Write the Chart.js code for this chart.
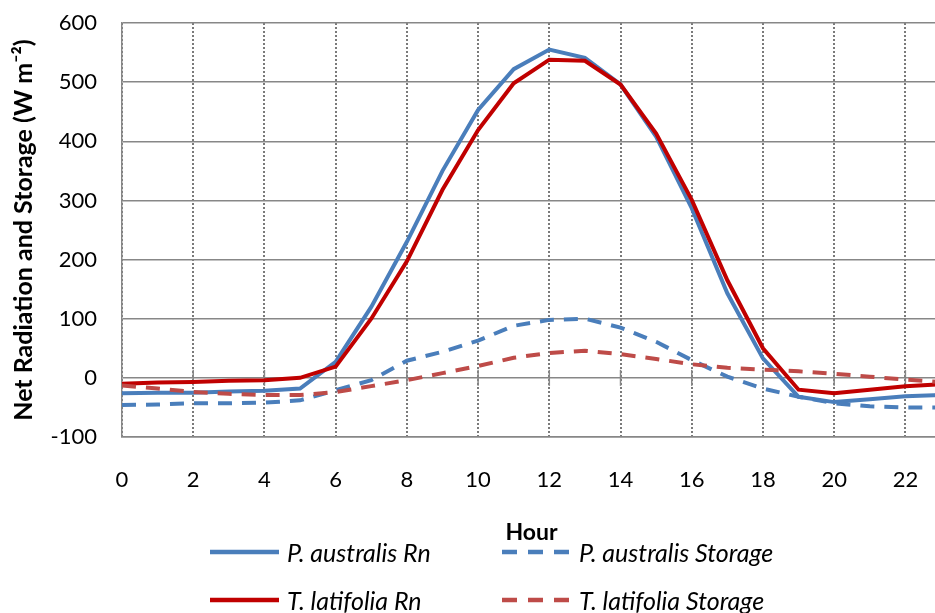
<!DOCTYPE html>
<html>
<head>
<meta charset="utf-8">
<script src="https://cdn.jsdelivr.net/npm/chart.js@4.4.1/dist/chart.umd.min.js"></script>
<style>
  html, body { margin: 0; padding: 0; background: #fff; overflow: hidden; }
  #wrap { position: relative; width: 935px; height: 613px; overflow: hidden; }
  #chart { position: absolute; left: 0; top: 0; }
  .item { position: absolute; height: 30px; display: flex; align-items: center;
          font: italic 25px Lato, sans-serif; color: #000; white-space: nowrap; }
  .item svg { margin-right: 8px; }
</style>
</head>
<body>
<div id="wrap">
  <canvas id="chart" width="960" height="613"></canvas>
  <div id="legend"></div>
</div>
<script>
var hours = [0, 1, 2, 3, 4, 5, 6, 7, 8, 9, 10, 11, 12, 13, 14, 15, 16, 17, 18, 19, 20, 21, 22, 23];
var hourTicks = [0, 2, 4, 6, 8, 10, 12, 14, 16, 18, 20, 22];
var yTicks = [-100, 0, 100, 200, 300, 400, 500, 600];
var xTitle = 'Hour';
var yTitle = 'Net Radiation and Storage (W m\u207B\u00B2)';

var seriesNames = ['P. australis Rn', 'P. australis Storage', 'T. latifolia Rn', 'T. latifolia Storage'];
var paRn = [-26, -25, -25, -23, -22, -18, 27, 120, 230, 350, 453, 522, 555, 541, 496, 408, 287, 143, 33, -32, -41, -36, -31, -29];
var paStorage = [-46, -45, -43, -43, -42, -38, -21, -4, 29, 44, 63, 88, 98, 100, 85, 61, 30, 2, -18, -32, -43, -48, -50, -50];
var tlRn = [-10, -8, -7, -5, -4, 0, 19, 100, 197, 318, 419, 498, 538, 536, 496, 413, 301, 165, 50, -20, -26, -20, -14, -11];
var tlStorage = [-13, -18, -24, -27, -29, -29, -24, -14, -4, 8, 20, 34, 42, 46, 40, 32, 23, 17, 14, 11, 7, 2, -3, -7];

var gridGrey = '#878787';
var dash = [14, 10];

function lineSet(label, data, color, dashed, order) {
  return {
    label: label,
    data: data,
    borderColor: color,
    backgroundColor: color,
    borderWidth: 4,
    borderDash: dashed ? dash : [],
    pointRadius: 0,
    tension: 0,
    fill: false,
    order: order
  };
}

// Excel style cross tick marks on the zero line
var zeroTicks = {
  id: 'zeroTicks',
  beforeDatasetsDraw: function (chart) {
    var ctx = chart.ctx;
    var y0 = chart.scales.y.getPixelForValue(0);
    ctx.save();
    ctx.strokeStyle = gridGrey;
    ctx.lineWidth = 1.5;
    hourTicks.forEach(function (h) {
      if (h === 0) return;
      var x = chart.scales.x.getPixelForValue(h);
      ctx.beginPath();
      ctx.moveTo(x, y0 - 8);
      ctx.lineTo(x, y0 + 8);
      ctx.stroke();
    });
    ctx.restore();
  }
};

var chart = new Chart(document.getElementById('chart').getContext('2d'), {
  type: 'line',
  data: {
    labels: hours,
    datasets: [
      lineSet(seriesNames[0], paRn, '#4A7EBB', false, 4),
      lineSet(seriesNames[1], paStorage, '#4A7EBB', true, 3),
      lineSet(seriesNames[2], tlRn, '#C00000', false, 2),
      lineSet(seriesNames[3], tlStorage, '#BE4B48', true, 1)
    ]
  },
  options: {
    responsive: false,
    animation: false,
    layout: { padding: { top: 23, right: 19, left: 0, bottom: 0 } },
    plugins: {
      legend: { display: false },
      tooltip: { enabled: false }
    },
    scales: {
      x: {
        type: 'linear',
        min: 0,
        max: 23,
        afterBuildTicks: function (axis) {
          axis.ticks = hourTicks.map(function (v) { return { value: v }; });
        },
        afterFit: function (axis) { axis.height = 176; },
        ticks: {
          color: '#000',
          padding: 30,
          maxRotation: 0,
          font: { family: 'Lato', size: 22 }
        },
        grid: { color: '#7a7a7a', lineWidth: 2, drawTicks: false },
        border: { display: true, color: gridGrey, width: 1.5, dash: [2, 2] },
        title: {
          display: true,
          text: xTitle,
          color: '#000',
          padding: { top: 0, bottom: 67 },
          font: { family: 'Lato', size: 23, weight: 'bold' }
        }
      },
      y: {
        min: -100,
        max: 600,
        afterBuildTicks: function (axis) {
          axis.ticks = yTicks.map(function (v) { return { value: v }; });
        },
        afterFit: function (axis) {
          axis.width = 122;
          axis.paddingTop = 0;
          axis.paddingBottom = 0;
        },
        ticks: {
          color: '#000',
          padding: 25,
          font: { family: 'Lato', size: 22 }
        },
        grid: { color: gridGrey, lineWidth: 1.5, drawTicks: false },
        border: { display: true, color: gridGrey, width: 1.5 },
        title: {
          display: true,
          text: yTitle,
          color: '#000',
          padding: { top: 9, bottom: 0 },
          font: { family: 'Lato', size: 25, weight: 'bold' }
        }
      }
    }
  },
  plugins: [zeroTicks]
});

// legend in a 2 x 2 grid, built from the chart's datasets
(function () {
  var box = document.getElementById('legend');
  var colLeft = [210, 502];
  var rowMid = [552, 600];
  chart.data.datasets.forEach(function (ds, i) {
    var item = document.createElement('div');
    item.className = 'item';
    item.style.left = colLeft[i % 2] + 'px';
    item.style.top = (rowMid[Math.floor(i / 2)] - 15) + 'px';
    var dashAttr = ds.borderDash.length ? ' stroke-dasharray="15 11"' : '';
    item.innerHTML = '<svg width="69" height="6"><line x1="0" y1="3" x2="69" y2="3" stroke="' +
      ds.borderColor + '" stroke-width="4.5"' + dashAttr + '/></svg><span>' + ds.label + '</span>';
    box.appendChild(item);
  });
})();
</script>
</body>
</html>
